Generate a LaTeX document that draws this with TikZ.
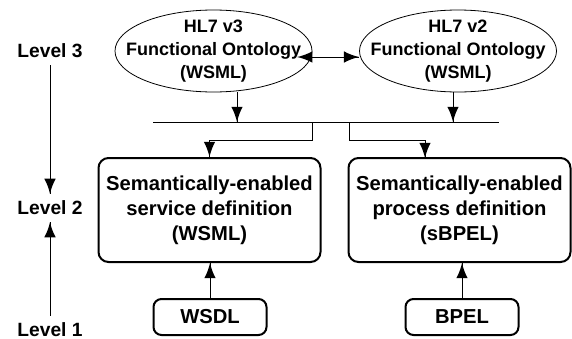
\documentclass[tikz,border=0pt]{standalone}
\usepackage{fontspec}
\setmainfont{Liberation Sans}
\usepackage{tikz}
\usetikzlibrary{arrows,shapes.geometric,decorations.markings}
\tikzstyle {onto node} = [ellipse, draw, inner xsep=-12pt, inner ysep=-6pt, minimum width=98.5pt, minimum height=41pt, align=center, font=\fontsize{9}{11.5}\selectfont\bfseries]
\tikzstyle {def node} = [rectangle, draw, line width=1pt, rounded corners=5pt, minimum width=111pt, minimum height=52pt, align=center, font=\fontsize{10.1}{12.5}\selectfont\bfseries]
\tikzstyle {src node} = [rectangle, draw, line width=1pt, rounded corners=4pt, minimum width=56.5pt, minimum height=18pt, font=\fontsize{10.1}{12}\selectfont\bfseries]
\tikzstyle {level node} = [font=\fontsize{9.6}{12}\selectfont\bfseries]
\tikzset{edge/.style = {decoration={markings,mark=at position 1 with %
            {\arrow[scale=1.9,>=latex]{>}}},postaction={decorate}}}
\tikzset{both edge/.style = {decoration={markings,mark=at position 0 with %
            {\arrow[scale=1.9,>=latex]{<}},mark=at position 1 with %
            {\arrow[scale=1.9,>=latex]{>}}},postaction={decorate}}}

\begin{document}
\begin{tikzpicture}[x=0.5pt, y=-0.5pt]
            \useasboundingbox (0,0) rectangle (572,338);
            \node[onto node] (v3) at (213.5, 51) {HL7 v3\\Functional Ontology\\(WSML)};
            \node[onto node] (v2) at (458, 51) {HL7 v2\\Functional Ontology\\(WSML)};
            \node[def node] (service) at (209.5, 210) {Semantically-enabled\\service definition\\(WSML)};
            \node[def node] (process) at (459.5, 210) {Semantically-enabled\\process definition\\(sBPEL)};
            \node[src node] (wsdl) at (210, 317) {WSDL};
            \node[src node] (bpel) at (462, 317) {BPEL};
            \node[level node] (l3) at (50, 51) {Level 3};
            \node[level node] (l2) at (50, 208) {Level 2};
            \node[level node] (l1) at (50, 330) {Level 1};
            \coordinate (busL) at (153, 122);
            \coordinate (busR) at (499, 122);
            \coordinate (j3) at (237, 122);
            \coordinate (j2) at (453, 122);
            \coordinate (k1) at (312, 122);
            \coordinate (k2) at (349, 122);
            \coordinate (p2) at (425, 158);
            \draw[both edge] ([yshift=-3pt]v3.east) -- ([yshift=-3pt]v2.west);
            \draw (busL) -- (busR);
            \draw[edge] (v3.south -| j3) -- (j3);
            \draw[edge] (v2.south -| j2) -- (j2);
            \draw[edge] (k1) -- ++(0, 18) -| (service.north);
            \draw[edge] (k2) -- ++(0, 18) -| (p2);
            \draw[edge] (wsdl.north) -- (wsdl.north |- service.south);
            \draw[edge] (bpel.north) -- (bpel.north |- process.south);
            \draw[edge] (l3) -- (l2);
            \draw[edge] (l1) -- (l2);
        \end{tikzpicture}
\end{document}
